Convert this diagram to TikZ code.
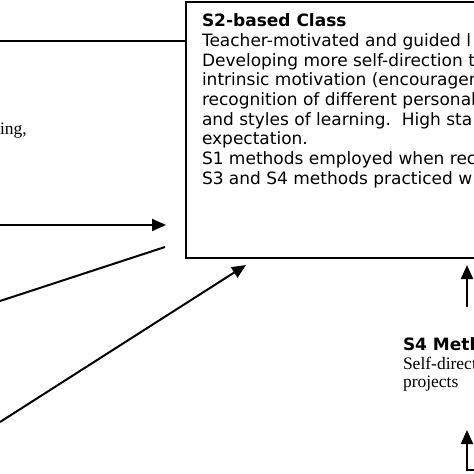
\documentclass[tikz,border=0pt]{standalone}
\usepackage{fontspec}
\setmainfont{Liberation Serif}
\newfontfamily\boxfont{DejaVu Sans}
\usetikzlibrary{arrows.meta}
\begin{document}
\begin{tikzpicture}[x=1pt,y=-1pt,line width=2pt,
  arr/.style={-{Triangle[length=14pt,width=12pt]}},
  serif/.style={font=\fontsize{17.5}{18}\selectfont,inner sep=0pt,anchor=base west},
  sans/.style={font=\boxfont\fontsize{17}{19.7}\selectfont,inner sep=0pt,anchor=base west},
  sansbold/.style={font=\boxfont\bfseries\fontsize{17}{19.7}\selectfont,inner sep=0pt,anchor=base west},
  classbox/.style={draw,line width=2pt,inner sep=0pt,anchor=north west}]
\useasboundingbox (0,0) rectangle (474,474);
\clip (0,0) rectangle (474,474);
% S2 class box
\node[classbox,minimum width=320pt,minimum height=256pt] (s2) at (185,1) {};
\node[sansbold] (l1) at (201,26) {S2-based Class};
\node[sans] (l2) at (201,46) {Teacher-motivated and guided l};
\node[sans] (l3) at (201,66) {Developing more self-direction t};
\node[sans] (l4) at (201,85) {intrinsic motivation (encouragem};
\node[sans] (l5) at (201,105) {recognition of different personal};
\node[sans] (l6) at (201,125) {and styles of learning.\ \ High sta};
\node[sans] (l7) at (201,144) {expectation.};
\node[sans] (l8) at (201,164) {S1 methods employed when rec};
\node[sans] (l9) at (201,184) {S3 and S4 methods practiced w};
% left text fragment
\node[serif] (lt) at (-1,134) {ing,};
% S4 methods
\node[sansbold] (s4) at (402,350) {S4 Meth};
\node[serif] (s4a) at (402,369) {Self-direct};
\node[serif] (s4b) at (402,387) {projects};
% connectors
\coordinate (tl) at (0,41);
\draw (tl) -- (tl -| s2.west);
\coordinate (a1s) at (0,225);
\coordinate (a1e) at (166,225);
\draw[arr] (a1s) -- (a1e);
\coordinate (b1s) at (0,301);
\coordinate (b1e) at (165,247);
\draw (b1s) -- (b1e);
\coordinate (c1s) at (0,422);
\coordinate (c1e) at (246,265);
\draw[arr] (c1s) -- (c1e);
\coordinate (d1s) at (467,307);
\coordinate (d1e) at (467,265);
\draw[arr] (d1s) -- (d1e);
\coordinate (e0) at (485,470);
\coordinate (e1) at (467,470);
\coordinate (e2) at (467,430);
\draw[arr] (e0) -- (e1) -- (e2);
\end{tikzpicture}
\end{document}
